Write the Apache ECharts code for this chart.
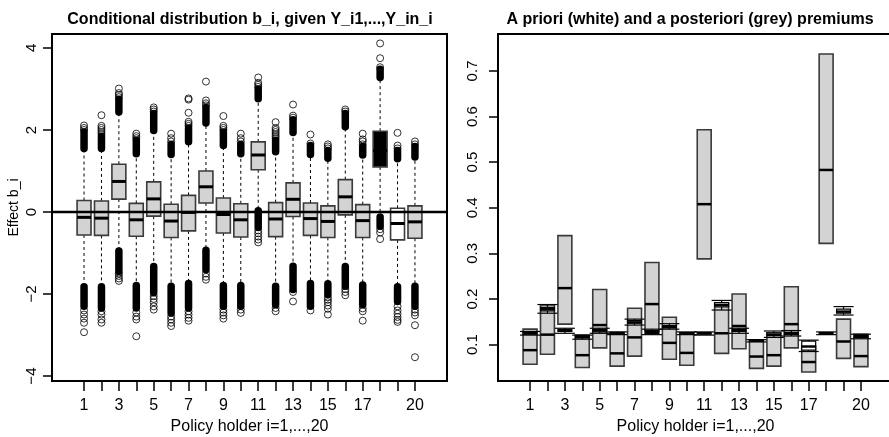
<!DOCTYPE html>
<html>
<head>
<meta charset="utf-8">
<script src="https://cdn.jsdelivr.net/npm/echarts@6/dist/echarts.min.js"></script>
<style>
html, body { margin: 0; padding: 0; background: #fff; }
#chart { width: 889px; height: 437px; }
</style>
</head>
<body>
<div id="chart"></div>
<script>
// policy holders and axis ticks
var holders = [1, 2, 3, 4, 5, 6, 7, 8, 9, 10, 11, 12, 13, 14, 15, 16, 17, 18, 19, 20];
var xTickLabels = [1, 3, 5, 7, 9, 11, 13, 15, 17, 20];
var effectTicks = [-4, -2, 0, 2, 4];
var premiumTicks = [0.1, 0.2, 0.3, 0.4, 0.5, 0.6, 0.7];

// left panel: conditional distribution of b_i
var effQ1  = [-0.56, -0.57, 0.315, -0.59, -0.10, -0.62, -0.46, 0.22, -0.51, -0.61, 1.03, -0.60, -0.11, -0.57, -0.62, -0.07, -0.62, 1.10, -0.68, -0.64];
var effMed = [-0.13, -0.15, 0.745, -0.19, 0.32, -0.22, -0.01, 0.615, -0.06, -0.19, 1.39, -0.17, 0.31, -0.16, -0.23, 0.37, -0.21, 1.50, -0.28, -0.24];
var effQ3  = [0.28, 0.27, 1.165, 0.21, 0.735, 0.19, 0.405, 1.00, 0.34, 0.20, 1.71, 0.23, 0.71, 0.22, 0.15, 0.79, 0.18, 1.97, 0.09, 0.15];
// dense runs of outliers (upper run starts where upper whisker ends, lower run ends where lower whisker ends)
var effUpLo   = [1.55, 1.55, 2.44, 1.42, 1.99, 1.40, 1.71, 2.17, 1.62, 1.42, 2.76, 1.47, 1.94, 1.40, 1.31, 2.08, 1.39, 3.28, 1.30, 1.34];
var effUpHi   = [1.95, 1.85, 2.75, 1.75, 2.40, 1.65, 2.05, 2.55, 1.95, 1.65, 3.00, 1.75, 2.25, 1.62, 1.50, 2.40, 1.60, 3.48, 1.50, 1.60];
var effDownHi = [-1.82, -1.82, -0.95, -1.79, -1.33, -1.81, -1.74, -0.93, -1.79, -1.79, 0.03, -1.81, -1.32, -1.74, -1.75, -1.33, -1.78, -0.12, -1.82, -1.81];
var effDownLo = [-2.30, -2.34, -1.45, -2.34, -1.97, -2.46, -2.34, -1.41, -2.30, -2.30, -0.38, -2.26, -1.89, -2.30, -2.01, -1.81, -2.26, -0.35, -2.18, -2.30];
// separate outliers
var effOutliers = [
  [2.0, 2.05, 2.11, -2.4, -2.5, -2.6, -2.7, -2.93],
  [1.9, 1.95, 2.0, 2.05, 2.1, 2.36, -2.42, -2.5, -2.62, -2.7],
  [2.8, 2.85, 2.9, 3.01, -1.5, -1.56, -1.62, -1.68],
  [1.8, 1.85, 1.91, -2.45, -2.55, -2.62, -3.03],
  [2.45, 2.5, 2.55, -2.05, -2.12, -2.2, -2.3, -2.38],
  [1.72, 1.8, 1.91, -2.55, -2.62, -2.7, -2.78],
  [2.1, 2.15, 2.2, 2.42, 2.74, 2.77, -2.42, -2.5, -2.58, -2.65],
  [2.6, 2.65, 2.72, 3.18, -1.5, -1.58, -1.65],
  [2.0, 2.05, 2.1, 2.34, -2.38, -2.45, -2.52, -2.6],
  [1.72, 1.8, 1.91, -2.38, -2.46],
  [3.05, 3.1, 3.15, 3.28, -0.45, -0.52, -0.6, -0.67, -0.74],
  [1.8, 1.85, 1.9, 1.95, 2.0, 2.05, 2.19, -2.34, -2.42],
  [2.3, 2.35, 2.62, -1.95, -2.18],
  [1.67, 1.89, -2.4],
  [1.55, 1.6, 1.65, -2.08, -2.14, -2.2, -2.28, -2.36, -2.5],
  [2.45, 2.5, -1.88, -1.95, -2.03],
  [1.65, 1.72, 1.77, 1.91, -2.35, -2.42, -2.65],
  [3.53, 3.75, 4.11, -0.42, -0.5, -0.66],
  [1.55, 1.62, 1.93, -2.3, -2.4, -2.48, -2.56, -2.63, -2.68],
  [1.65, 1.72, -2.38, -2.45, -2.52, -2.76, -3.54]
];
var zeroLevel = 0;

// right panel: a posteriori (grey) premiums
var postQ1  = [0.057, 0.079, 0.145, 0.050, 0.093, 0.053, 0.075, 0.130, 0.068, 0.055, 0.288, 0.081, 0.091, 0.048, 0.053, 0.093, 0.040, 0.322, 0.070, 0.052];
var postMed = [0.088, 0.122, 0.224, 0.077, 0.143, 0.081, 0.116, 0.189, 0.104, 0.082, 0.408, 0.125, 0.141, 0.074, 0.077, 0.145, 0.062, 0.483, 0.107, 0.075];
var postQ3  = [0.134, 0.187, 0.339, 0.121, 0.221, 0.126, 0.180, 0.280, 0.160, 0.126, 0.571, 0.190, 0.211, 0.110, 0.126, 0.227, 0.097, 0.737, 0.156, 0.123];
// a priori (white) premiums
var priorMin = [0.121, 0.169, 0.125, 0.112, 0.125, 0.122, 0.143, 0.122, 0.134, 0.122, 0.121, 0.176, 0.125, 0.106, 0.116, 0.119, 0.085, 0.122, 0.165, 0.113];
var priorQ1  = [0.123, 0.174, 0.129, 0.115, 0.128, 0.124, 0.147, 0.125, 0.137, 0.124, 0.123, 0.183, 0.129, 0.108, 0.120, 0.122, 0.088, 0.124, 0.169, 0.116];
var priorMed = [0.125, 0.178, 0.131, 0.117, 0.131, 0.125, 0.149, 0.128, 0.139, 0.125, 0.125, 0.187, 0.131, 0.109, 0.122, 0.124, 0.096, 0.125, 0.1725, 0.118];
var priorQ3  = [0.127, 0.182, 0.133, 0.119, 0.133, 0.127, 0.153, 0.131, 0.142, 0.126, 0.126, 0.192, 0.133, 0.110, 0.126, 0.127, 0.108, 0.126, 0.178, 0.120];
var priorMax = [0.129, 0.188, 0.136, 0.121, 0.136, 0.128, 0.156, 0.134, 0.146, 0.128, 0.128, 0.197, 0.136, 0.111, 0.130, 0.131, 0.110, 0.128, 0.1835, 0.123];

var FONT = '"Liberation Sans", Arial, Helvetica, sans-serif';

var boxData = holders.map(function (h, i) {
  return [h, effQ1[i], effMed[i], effQ3[i], effUpLo[i], effDownHi[i]];
});
var blobData = [];
var outlierData = [];
holders.forEach(function (h, i) {
  blobData.push([h, effUpLo[i], effUpHi[i]]);
  blobData.push([h, effDownLo[i], effDownHi[i]]);
  effOutliers[i].forEach(function (v) { outlierData.push([h, v]); });
});
var postData = holders.map(function (h, i) {
  return [h, postQ1[i], postMed[i], postQ3[i]];
});
var priorData = holders.map(function (h, i) {
  return [h, priorMin[i], priorQ1[i], priorMed[i], priorQ3[i], priorMax[i]];
});

function seg(a, b, style) {
  return { type: 'line', shape: { x1: a[0], y1: a[1], x2: b[0], y2: b[1] }, style: style };
}

function renderEffectBox(params, api) {
  var x = api.value(0);
  var q1 = api.coord([x, api.value(1)]);
  var md = api.coord([x, api.value(2)]);
  var q3 = api.coord([x, api.value(3)]);
  var hi = api.coord([x, api.value(4)]);
  var lo = api.coord([x, api.value(5)]);
  var hw = api.size([0.8, 0])[0] / 2;
  var fill = '#d3d3d3';
  if (x === 18) fill = '#000';
  if (x === 19) fill = '#fff';
  var dash = { stroke: '#000', lineWidth: 1, lineDash: [3, 3] };
  return {
    type: 'group',
    children: [
      seg(q3, hi, dash),
      seg(q1, lo, dash),
      { type: 'rect', shape: { x: q3[0] - hw, y: q3[1], width: hw * 2, height: q1[1] - q3[1] },
        style: { fill: fill, stroke: '#3a3a3a', lineWidth: 1.6 } },
      seg([md[0] - hw, md[1]], [md[0] + hw, md[1]], { stroke: '#000', lineWidth: 3 })
    ]
  };
}

function renderBlob(params, api) {
  var x = api.value(0);
  var a = api.coord([x, api.value(1)]);
  var b = api.coord([x, api.value(2)]);
  return seg(a, b, { stroke: '#000', lineWidth: 7.5, lineCap: 'round' });
}

function renderZero(params, api) {
  var cs = params.coordSys;
  var p = api.coord([0, api.value(1)]);
  return seg([cs.x, p[1]], [cs.x + cs.width, p[1]], { stroke: '#000', lineWidth: 2.5 });
}

function renderPost(params, api) {
  var x = api.value(0);
  var q1 = api.coord([x, api.value(1)]);
  var md = api.coord([x, api.value(2)]);
  var q3 = api.coord([x, api.value(3)]);
  var hw = api.size([0.8, 0])[0] / 2;
  return {
    type: 'group',
    children: [
      { type: 'rect', shape: { x: q3[0] - hw, y: q3[1], width: hw * 2, height: q1[1] - q3[1] },
        style: { fill: '#d3d3d3', stroke: '#3a3a3a', lineWidth: 1.6 } },
      seg([md[0] - hw, md[1]], [md[0] + hw, md[1]], { stroke: '#000', lineWidth: 2.5 })
    ]
  };
}

function renderPrior(params, api) {
  var x = api.value(0);
  var mn = api.coord([x, api.value(1)]);
  var q1 = api.coord([x, api.value(2)]);
  var md = api.coord([x, api.value(3)]);
  var q3 = api.coord([x, api.value(4)]);
  var mx = api.coord([x, api.value(5)]);
  var hw = api.size([0.8, 0])[0] / 2;
  var sw = api.size([1.15, 0])[0] / 2;
  var thin = { stroke: '#000', lineWidth: 1.2 };
  return {
    type: 'group',
    children: [
      seg([mn[0] - sw, mn[1]], [mn[0] + sw, mn[1]], thin),
      seg([mx[0] - sw, mx[1]], [mx[0] + sw, mx[1]], thin),
      seg(mx, q3, thin),
      seg(q1, mn, thin),
      { type: 'rect', shape: { x: q3[0] - hw, y: q3[1], width: hw * 2, height: q1[1] - q3[1] },
        style: { fill: '#fff', stroke: '#000', lineWidth: 1.2 } },
      seg([md[0] - hw, md[1]], [md[0] + hw, md[1]], { stroke: '#000', lineWidth: 2.5 })
    ]
  };
}

function xAxisOf(idx) {
  return {
    gridIndex: idx, type: 'value', min: -0.84, max: 21.84,
    axisLine: { show: false, onZero: false }, splitLine: { show: false },
    axisTick: { show: true, inside: false, customValues: holders, length: 10, lineStyle: { color: '#000', width: 1.5 } },
    axisLabel: { customValues: xTickLabels, color: '#000', fontSize: 16, fontFamily: FONT, margin: 17 },
    name: 'Policy holder i=1,...,20', nameLocation: 'middle', nameGap: 38,
    nameTextStyle: { color: '#000', fontSize: 16, fontFamily: FONT }
  };
}

var chart = echarts.init(document.getElementById('chart'), null, { renderer: 'canvas' });
chart.setOption({
  backgroundColor: '#fff',
  animation: false,
  graphic: [
    { type: 'text', x: 250, y: 20, style: { text: 'Conditional distribution b_i, given Y_i1,...,Y_in_i',
      font: 'bold 16px ' + FONT, fill: '#000', align: 'center', verticalAlign: 'middle' } },
    { type: 'text', x: 690, y: 20, style: { text: 'A priori (white) and a posteriori (grey) premiums',
      font: 'bold 16px ' + FONT, fill: '#000', align: 'center', verticalAlign: 'middle' } }
  ],
  grid: [
    { left: 52, top: 34, width: 395, height: 347, show: true, borderColor: '#000', borderWidth: 2,
      backgroundColor: 'transparent', containLabel: false, outerBoundsMode: 'none' },
    { left: 498, top: 34, width: 395, height: 347, show: true, borderColor: '#000', borderWidth: 2,
      backgroundColor: 'transparent', containLabel: false, outerBoundsMode: 'none' }
  ],
  xAxis: [xAxisOf(0), xAxisOf(1)],
  yAxis: [
    {
      gridIndex: 0, type: 'value', min: -4.12, max: 4.34,
      axisLine: { show: false, onZero: false }, splitLine: { show: false },
      axisTick: { show: true, inside: false, customValues: effectTicks, length: 9, lineStyle: { color: '#000', width: 1.5 } },
      axisLabel: { customValues: effectTicks, rotate: 90, color: '#000', fontSize: 15, fontFamily: FONT, margin: 13,
        formatter: function (v) { return String(v).replace('-', '\u2212'); } },
      name: 'Effect b_i', nameLocation: 'middle', nameRotate: 90, nameGap: 31,
      nameTextStyle: { color: '#000', fontSize: 14, fontFamily: FONT }
    },
    {
      gridIndex: 1, type: 'value', min: 0.0204, max: 0.781,
      axisLine: { show: false, onZero: false }, splitLine: { show: false },
      axisTick: { show: true, inside: false, customValues: premiumTicks, length: 9, lineStyle: { color: '#000', width: 1.5 } },
      axisLabel: { customValues: premiumTicks, rotate: 90, color: '#000', fontSize: 15, fontFamily: FONT, margin: 18,
        formatter: function (v) { return v.toFixed(1); } }
    }
  ],
  series: [
    { type: 'custom', xAxisIndex: 0, yAxisIndex: 0, renderItem: renderEffectBox, data: boxData, encode: { x: 0, y: [1, 2, 3, 4, 5] }, z: 2 },
    { type: 'custom', xAxisIndex: 0, yAxisIndex: 0, renderItem: renderBlob, data: blobData, encode: { x: 0, y: [1, 2] }, z: 3 },
    { type: 'scatter', xAxisIndex: 0, yAxisIndex: 0, data: outlierData, symbol: 'circle', symbolSize: 7,
      itemStyle: { color: 'transparent', borderColor: '#000', borderWidth: 1 }, z: 4 },
    { type: 'custom', xAxisIndex: 0, yAxisIndex: 0, renderItem: renderZero, data: [[0, zeroLevel]], encode: { x: 0, y: 1 }, z: 5 },
    { type: 'custom', xAxisIndex: 1, yAxisIndex: 1, renderItem: renderPost, data: postData, encode: { x: 0, y: [1, 2, 3] }, z: 2 },
    { type: 'custom', xAxisIndex: 1, yAxisIndex: 1, renderItem: renderPrior, data: priorData, encode: { x: 0, y: [1, 2, 3, 4, 5] }, z: 3 }
  ]
});
</script>
</body>
</html>
